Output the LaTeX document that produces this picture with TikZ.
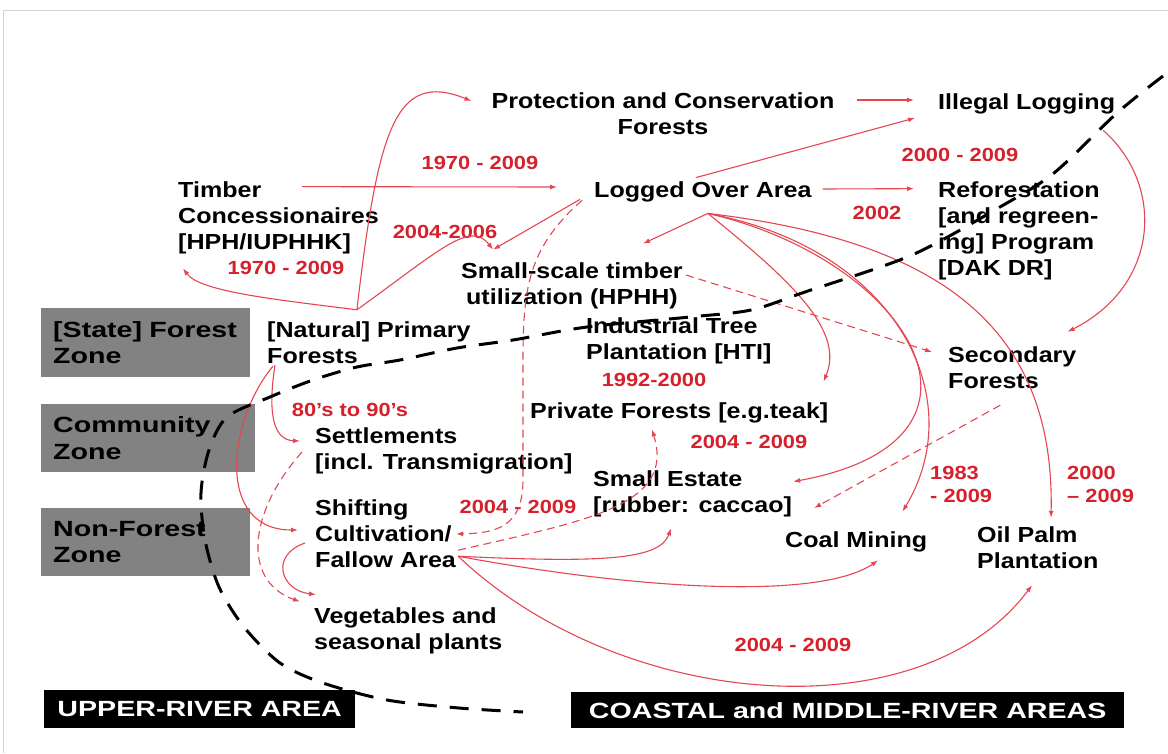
\documentclass[tikz,border=0pt]{standalone}
\usepackage{fontspec}
\setmainfont{Liberation Sans}
\newfontfamily\placefamily{Liberation Sans}[FakeStretch=1.15,Ligatures=TeX]
\newfontfamily\areafamily{Liberation Sans}[FakeStretch=1.3,Ligatures=TeX]
\usetikzlibrary{arrows.meta,calc}
\definecolor{flowred}{RGB}{228,70,82}
\definecolor{yearred}{RGB}{214,32,44}
\definecolor{zonegray}{RGB}{130,130,130}
\definecolor{framegray}{RGB}{210,210,210}

\begin{document}
\begin{tikzpicture}[x=1pt,y=-1pt,
  place/.style={inner sep=0pt,align=left,font=\placefamily\bfseries\fontsize{21.8}{26}\selectfont},
  year/.style={inner sep=0pt,align=left,text=yearred,font=\placefamily\bfseries\fontsize{19}{23}\selectfont},
  zonebox/.style={fill=zonegray,anchor=north west,inner xsep=12pt,inner ysep=0pt,align=left,font=\areafamily\bfseries\fontsize{22}{26.5}\selectfont},
  areabox/.style={fill=black,text=white,anchor=north west,inner sep=0pt,font=\areafamily\bfseries\fontsize{22}{26}\selectfont},
  flow/.style={draw=flowred,line width=1.1pt,-{Latex[length=7pt,width=5pt]}},
  flowdash/.style={flow,dash pattern=on 8pt off 5pt},
  zoneline/.style={black,line width=3pt,dash pattern=on 19pt off 13pt}]
\useasboundingbox (0,0) rectangle (1168,753);
\draw [framegray,line width=1pt] (3,753) -- (3,10) -- (1168,10);

\node [place,anchor=center,align=center] (prot) at (663,114) {Protection and Conservation\\Forests};
\node [place,anchor=west] (illegal) at (938,104) {Illegal Logging};
\node [place,anchor=west] (timber) at (178,218) {Timber\\Concessionaires\\{[HPH/IUPHHK]}};
\node [place,anchor=west] (logged) at (594,192) {Logged Over Area};
\node [place,anchor=west] (refor) at (938,231) {Reforestation\\{[and regreen-}\\ing] Program\\{[DAK DR]}};
\node [place,anchor=center,align=center] (hphh) at (572,286) {Small-scale timber\\utilization (HPHH)};
\node [place,anchor=west] (primary) at (267,343) {[Natural] Primary\\Forests};
\node [place,anchor=west] (hti) at (586,341) {Industrial Tree\\Plantation [HTI]};
\node [place,anchor=west] (secondary) at (948,368) {Secondary\\Forests};
\node [place,anchor=west] (private) at (530,413) {Private Forests [e.g.teak]};
\node [place,anchor=west] (settle) at (315,451) {Settlements\\{[incl. Transmigration]}};
\node [place,anchor=west] (estate) at (593,494) {Small Estate\\{[rubber: caccao]}};
\node [place,anchor=west] (shifting) at (315,534) {Shifting\\Cultivation/\\Fallow Area};
\node [place,anchor=west] (coal) at (785,542) {Coal Mining};
\node [place,anchor=west] (oilpalm) at (977,548) {Oil Palm\\Plantation};
\node [place,anchor=west] (veg) at (314,631) {Vegetables and\\seasonal plants};

\node [zonebox,text width=185pt,minimum height=69pt] (statezone) at (41,308) {[State] Forest\\Zone};
\node [zonebox,text width=190pt,minimum height=68pt] (commzone) at (41,404) {Community\\Zone};
\node [zonebox,text width=185pt,minimum height=68pt] (nonzone) at (41,508) {Non-Forest\\Zone};
\node [areabox,minimum width=311pt,minimum height=38pt] (upper) at (44,690) {UPPER-RIVER AREA};
\node [areabox,minimum width=553pt,minimum height=36pt] (coastal) at (571,692) {COASTAL and MIDDLE-RIVER AREAS};

\node [year] (y-tc) at (480,163) {1970 - 2009};
\node [year] (y-hphh) at (445,232) {2004-2006};
\node [year] (y-pf) at (286,268) {1970 - 2009};
\node [year] (y-il) at (960,155) {2000 - 2009};
\node [year] (y-rf) at (877,213) {2002};
\node [year] (y-hti) at (654,380) {1992-2000};
\node [year] (y-st) at (350,410) {80's to 90's};
\node [year] (y-pv) at (749,442) {2004 - 2009};
\node [year] (y-sc) at (518,507) {2004 - 2009};
\node [year,anchor=west] (y-cm) at (930,484) {1983\\- 2009};
\node [year,anchor=west] (y-op) at (1067,484) {2000\\-- 2009};
\node [year] (y-fa) at (793,645) {2004 - 2009};

\coordinate (pf-top) at ($(primary.north)+(-12,-12)$);
\coordinate (lo-fan) at ($(logged.south)+(5,11)$);
\coordinate (fa-out) at ($(shifting.south east)+(2,-12)$);

\draw [flow] (pf-top) .. controls (378,130) and (395,70) .. ($(prot.west)+(-20,-13)$);
\draw [flow] (pf-top) .. controls (280,300) and (200,292) .. ($(timber.south west)+(5,14)$);
\draw [flow] (pf-top) .. controls (440,250) and (470,220) .. ($(hphh.north west)+(32,-13)$);
\draw [flow] ($(logged.south west)+(-14,-3)$) -- ($(hphh.north west)+(32,-13)$);
\draw [flow] (lo-fan) -- ($(hphh.north east)+(-40,-19)$);
\draw [flow] ($(timber.north east)+(-77,5)$) -- ($(logged.west)+(-37,-5)$);
\draw [flow] ($(prot.east)+(22,-14)$) -- ($(illegal.west)+(-24,-4)$);
\draw [flow] ($(logged.north)+(-7,-4)$) -- ($(illegal.west)+(-23,14)$);
\draw [flow] ($(logged.east)+(11,-3)$) -- ($(refor.north west)+(-24,7)$);
\draw [flow] ($(illegal.south east)+(-12,16)$) .. controls (1165,185) and (1160,285) .. ($(secondary.north east)+(-9,-15)$);

\draw [flow] (lo-fan) .. controls (790,280) and (845,330) .. ($(private.north east)+(-5,-21)$);
\draw [flow] (lo-fan) .. controls (910,260) and (1020,440) .. ($(estate.north east)+(1,11)$);
\draw [flow] (lo-fan) .. controls (900,250) and (970,400) .. ($(coal.north east)+(-25,-20)$);
\draw [flow] (lo-fan) .. controls (930,240) and (1055,320) .. ($(oilpalm.north west)+(74,-9)$);
\draw [flowdash] ($(hphh.east)+(3,-11)$) -- ($(secondary.west)+(-16,-16)$);
\draw [flowdash] ($(secondary.south)+(-12,16)$) -- ($(estate.east)+(22,14)$);
\draw [flowdash] ($(logged.south west)+(-12,-2)$) .. controls (520,255) and (523,300) .. (523,390) -- (523,480) .. controls (523,528) and (495,533) .. (shifting.east);

\draw [flowdash] ($(fa-out)+(0,-6)$) .. controls (590,520) and (675,505) .. ($(private.south west)+(122,6)$);
\draw [flow] (fa-out) .. controls (600,563) and (660,560) .. ($(estate.south west)+(78,11)$);
\draw [flow] (fa-out) .. controls (640,590) and (820,600) .. ($(coal.south west)+(93,8)$);
\draw [flow] (fa-out) .. controls (620,710) and (920,735) .. ($(oilpalm.south west)+(55,16)$);

\draw [flow] ($(primary.south west)+(8,1)$) .. controls (268,410) and (272,440) .. ($(settle.west)+(-15,-10)$);
\draw [flow] ($(primary.south west)+(6,2)$) .. controls (228,420) and (215,530) .. ($(shifting.west)+(-17,-4)$);
\draw [flowdash] ($(settle.west)+(-13,1)$) .. controls (250,510) and (240,580) .. ($(veg.north west)+(-14,-6)$);
\draw [flow] ($(shifting.west)+(-10,9)$) .. controls (270,555) and (280,590) .. ($(veg.north west)+(2,-13)$);

\draw [zoneline] plot [smooth,tension=0.5] coordinates {(1163,76) (1117,113) (1054,173) (1000,207) (912,255) (805,292) (751,310) (690,317) (587,327) (513,340) (457,348) (400,360) (357,367) (313,380) (270,397) (227,417) (209,450) (201,493) (205,540) (219,587) (244,627) (280,663) (323,683) (387,700) (459,708) (523,712)};
\end{tikzpicture}
\end{document}
